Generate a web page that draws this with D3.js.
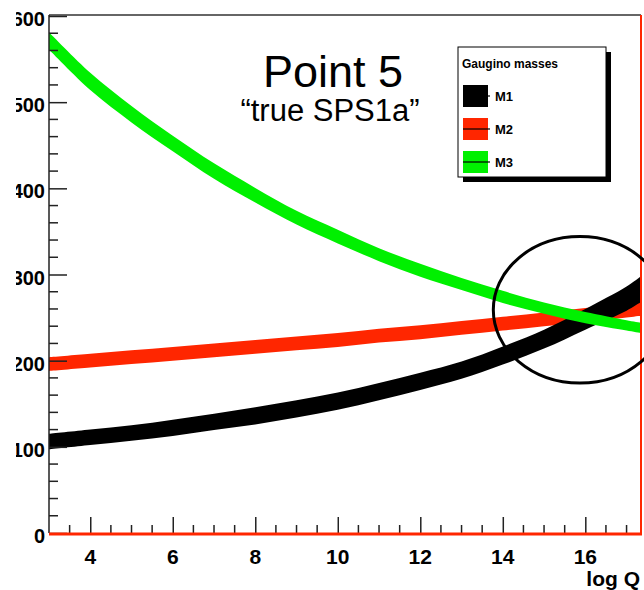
<!DOCTYPE html>
<html><head><meta charset="utf-8">
<script src="https://cdn.jsdelivr.net/npm/d3@7"></script>
<style>body{margin:0;background:#fff;} svg{display:block}</style>
</head><body>
<svg id="c" width="644" height="590"></svg>
<script>
// ---- data ----
const logQ  = [3, 4, 5, 6, 7, 8, 9, 10, 11, 12, 13, 14, 15, 16, 17, 17.35];
const m1    = [106, 111, 116, 122, 129, 136, 144, 153, 164, 176, 189, 206, 225, 248, 272, 283];
const m1Err = [9, 9, 9, 9.5, 9.5, 10, 10, 10, 10, 10, 10, 10.5, 11, 12, 14, 15];
const m2    = [196, 200, 204, 208, 212, 216, 220, 224, 229, 233, 238, 243, 248, 253, 258, 260];
const m2Err = [8, 8, 8, 8, 8, 8, 8, 8, 8, 8, 8, 8, 8, 8, 8, 8];
const m3    = [571, 524, 486, 452, 420, 392, 366, 344, 323, 305, 289, 274, 261, 250, 241, 238];
const m3Err = [10, 10, 9.5, 9, 9, 8.5, 8, 8, 7.5, 7.5, 7, 7, 6.5, 6.5, 6, 6];
const seriesNames = ["M1", "M2", "M3"];
const yTickValues = [0, 100, 200, 300, 400, 500, 600];
const xTickValues = [4, 6, 8, 10, 12, 14, 16];
const legendTitle = "Gaugino masses";
const titleText = "Point 5";
const subtitleText = "\u201Ctrue SPS1a\u201D";
const xAxisLabel = "log Q";
// annotation ellipse (data coords: centre logQ, centre mass, half-width logQ, half-height mass)
const ellipseAnno = {cx: 15.87, cy: 259, rx: 2.1, ry: 85};

// ---- layout ----
const svg = d3.select("#c");
const colors = {M1: "#000000", M2: "#ff2600", M3: "#00f000"};
const L = 49, R = 641, T = 16, B = 533;
const x = d3.scaleLinear().domain([3, 17.35]).range([L, R]);
const y = d3.scaleLinear().domain([0, 600]).range([B, T]);
const boldFont = "'Liberation Sans', Arial, Helvetica, sans-serif";

const series = [
  {name: "M1", v: m1, e: m1Err},
  {name: "M2", v: m2, e: m2Err},
  {name: "M3", v: m3, e: m3Err}
];

// bands: draw red, black, green
const area = d3.area()
  .x(d => x(d.q))
  .y0(d => y(d.v - d.e))
  .y1(d => y(d.v + d.e))
  .curve(d3.curveCatmullRom.alpha(0.5));

const drawOrder = ["M2", "M1", "M3"];
drawOrder.forEach(n => {
  const s = series.find(k => k.name === n);
  const pts = logQ.map((q, i) => ({q, v: s.v[i], e: s.e[i]}));
  svg.append("path").datum(pts).attr("d", area).attr("fill", colors[n]);
});

// frame
svg.append("line").attr("x1", L).attr("x2", R).attr("y1", T - 1).attr("y2", T - 1)
  .attr("stroke", "#333").attr("stroke-width", 1.5);

// y axis
const yAxis = d3.axisRight(y).tickValues(yTickValues).tickSize(18).tickFormat("");
const gy = svg.append("g").attr("transform", `translate(${L},0)`).call(yAxis);
const yMinor = d3.range(0, 601, 20).filter(v => v % 100 !== 0);
gy.selectAll(".minor").data(yMinor).enter().append("line").attr("class", "minor")
  .attr("x1", 0).attr("x2", 9).attr("y1", d => y(d)).attr("y2", d => y(d));
gy.selectAll("line").attr("stroke", "#222").attr("stroke-width", 1.5);
gy.select(".domain").attr("d", `M0,${T - 1}V${B}`).attr("stroke", "#222").attr("stroke-width", 1.5);

// y tick labels: left part clipped, as in the reference
svg.append("clipPath").attr("id", "ylabclip").append("rect")
  .attr("x", 16).attr("y", 0).attr("width", 40).attr("height", 590);
svg.append("g").attr("clip-path", "url(#ylabclip)")
  .selectAll("text").data(yTickValues).enter().append("text")
  .attr("x", 45).attr("y", d => y(d) + 10)
  .attr("text-anchor", "end")
  .style("font-family", boldFont)
  .style("font-weight", "bold").style("font-size", "20px")
  .text(d => d);

// x axis
const xAxis = d3.axisTop(x).tickValues(xTickValues).tickSize(16).tickFormat("");
const gx = svg.append("g").attr("transform", `translate(0,${B})`).call(xAxis);
const xMinor = d3.range(3.5, 17.4, 0.5).filter(v => v % 2 !== 0);
gx.selectAll(".minor").data(xMinor).enter().append("line").attr("class", "minor")
  .attr("x1", d => x(d)).attr("x2", d => x(d)).attr("y1", 0).attr("y2", -8);
gx.selectAll("line").attr("stroke", "#222").attr("stroke-width", 1.5);
gx.select(".domain").remove();

svg.append("line").attr("x1", L).attr("x2", R + 1).attr("y1", B + 1).attr("y2", B + 1)
  .attr("stroke", "#ff2600").attr("stroke-width", 3);
svg.append("line").attr("x1", R).attr("x2", R).attr("y1", T - 1).attr("y2", B + 2)
  .attr("stroke", "#ff2600").attr("stroke-width", 2);

svg.append("g").selectAll("text").data(xTickValues).enter().append("text")
  .attr("x", d => x(d)).attr("y", 564)
  .attr("text-anchor", "middle")
  .style("font-family", boldFont)
  .style("font-weight", "bold").style("font-size", "21px")
  .text(d => d);

svg.append("text").attr("x", 640).attr("y", 586).attr("text-anchor", "end")
  .style("font-family", boldFont)
  .style("font-weight", "bold").style("font-size", "21px")
  .text(xAxisLabel);

// titles
svg.append("text").attr("x", 333).attr("y", 87).attr("text-anchor", "middle")
  .style("font-family", "'Liberation Sans', Arial, sans-serif").style("font-size", "45px")
  .text(titleText);
svg.append("text").attr("x", 330).attr("y", 121).attr("text-anchor", "middle")
  .style("font-family", "'Liberation Sans', Arial, sans-serif").style("font-size", "31px")
  .text(subtitleText);

// legend
const lg = svg.append("g");
lg.append("rect").attr("x", 463).attr("y", 52).attr("width", 148).attr("height", 130).attr("fill", "#000");
lg.append("rect").attr("x", 458).attr("y", 47).attr("width", 148).attr("height", 130)
  .attr("fill", "#fff").attr("stroke", "#000").attr("stroke-width", 1);
lg.append("text").attr("x", 462).attr("y", 68)
  .style("font-family", boldFont)
  .style("font-weight", "bold").style("font-size", "12px").text(legendTitle);
seriesNames.forEach((n, i) => {
  const cy = 96 + i * 33;
  lg.append("rect").attr("x", 463).attr("y", cy - 11).attr("width", 25).attr("height", 22).attr("fill", colors[n]);
  lg.append("line").attr("x1", 463).attr("x2", 490).attr("y1", cy).attr("y2", cy)
    .attr("stroke", "#000").attr("stroke-width", 1.2);
  lg.append("text").attr("x", 495).attr("y", cy + 5)
    .style("font-family", boldFont)
    .style("font-weight", "bold").style("font-size", "13px").text(n);
});

// annotation ellipse
const ex = x(ellipseAnno.cx), ey = y(ellipseAnno.cy);
svg.append("ellipse").attr("cx", ex).attr("cy", ey)
  .attr("rx", x(ellipseAnno.cx + ellipseAnno.rx) - ex)
  .attr("ry", ey - y(ellipseAnno.cy + ellipseAnno.ry))
  .attr("fill", "none").attr("stroke", "#000").attr("stroke-width", 3);
</script>
</body></html>
